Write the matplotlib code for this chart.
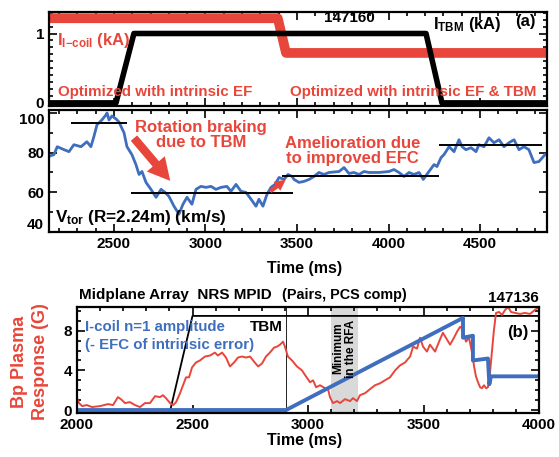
import matplotlib
matplotlib.use("Agg")
import matplotlib.pyplot as plt
from matplotlib.ticker import MultipleLocator

plt.rcParams['font.family'] = ['Liberation Sans', 'DejaVu Sans']
plt.rcParams['font.weight'] = 'bold'
plt.rcParams['mathtext.fontset'] = 'custom'
plt.rcParams['mathtext.bf'] = 'Liberation Sans:bold'
plt.rcParams['mathtext.rm'] = 'Liberation Sans:bold'
plt.rcParams['mathtext.it'] = 'Liberation Sans:bold'

RED = '#e8463a'
BLUE = '#3f6ebf'

# ---------------- panel (a) data ----------------
t_tbm = [2145, 2511, 2609, 4205, 4292, 4866]
i_tbm = [0.0, 0.0, 1.0, 1.0, 0.0, 0.0]
t_icoil = [2145, 3395, 3440, 4866]
i_icoil = [1.22, 1.22, 0.72, 0.72]

# ---------------- Vtor data ----------------
t_v = [2140, 2172, 2190, 2227, 2254, 2281, 2320, 2352, 2374, 2390, 2407, 2434, 2456,
       2462, 2473, 2489, 2511, 2527, 2555, 2571, 2598, 2620, 2637, 2653, 2675, 2702,
       2730, 2757, 2779, 2800, 2828, 2855, 2877, 2899, 2926, 2948, 2975, 3003, 3030,
       3057, 3085, 3117, 3139, 3167, 3194, 3221, 3249, 3276, 3292, 3314, 3336, 3358,
       3380, 3402, 3429, 3451, 3473, 3484, 3511, 3538, 3566, 3593, 3620, 3647, 3675,
       3730, 3757, 3784, 3811, 3839, 3866, 3893, 3948, 4003, 4030, 4057, 4085, 4112,
       4139, 4167, 4190, 4221, 4249, 4265, 4287, 4303, 4331, 4358, 4385, 4402, 4423,
       4451, 4478, 4494, 4522, 4549, 4576, 4604, 4631, 4658, 4686, 4713, 4740, 4767,
       4795, 4822, 4855]
v_tor = [78, 79, 83, 81.5, 80.5, 84, 83, 85.5, 83, 88, 94, 96.5, 99,
         100, 96.5, 98.5, 97, 95.5, 90, 83, 79, 74, 69, 70.5, 65, 61.5,
         57.5, 61.5, 60, 58, 53, 49, 54, 57.5, 54, 61.5, 63, 62.5, 63,
         61.5, 62.5, 63, 60.5, 64, 60.5, 60, 56.5, 53, 56.5, 53, 59, 62.5,
         64, 67.5, 66.5, 69, 68, 66.5, 65, 65.5, 66.5, 68, 70, 69, 70,
         70.5, 72.5, 69.5, 70, 69, 70.5, 70, 70, 70.5, 71.5, 70, 68, 70,
         69, 70, 66.5, 70.5, 74, 73, 77.5, 79, 83, 80.5, 86.5, 83, 81.5,
         82.5, 80.5, 84, 83, 87.5, 85, 86.5, 83, 85, 86.5, 81.5, 83, 81.5,
         75, 75.5, 79]
lvl_t0 = [2265, 2595, 3420, 4275]
lvl_t1 = [2570, 3480, 4275, 4840]
lvl_v = [95, 59.5, 68, 84]

# ---------------- panel (b) data ----------------
t_tbm_b = [2000, 2404, 2500, 4000]
tbm_b = [0.0, 0.0, 9.5, 9.5]
t_blue = [2000, 2905, 3671, 3671, 3714, 3714, 3779, 3785, 3792, 4000]
blue = [0.0, 0.0, 9.3, 7.3, 7.5, 5.0, 5.2, 2.6, 3.4, 3.4]
t_red = [2000, 2009, 2022, 2043, 2065, 2100, 2134, 2156, 2177, 2190, 2208, 2229, 2251,
         2273, 2294, 2316, 2338, 2359, 2372, 2385, 2403, 2416, 2429, 2446, 2459, 2472,
         2485, 2498, 2515, 2532, 2554, 2576, 2597, 2610, 2628, 2645, 2662, 2680, 2697,
         2714, 2732, 2749, 2766, 2784, 2801, 2818, 2835, 2853, 2866, 2879, 2892, 2900,
         2913, 2931, 2952, 2974, 2991, 3009, 3022, 3035, 3052, 3074, 3087, 3095, 3108,
         3126, 3139, 3160, 3182, 3195, 3212, 3225, 3247, 3268, 3290, 3312, 3333, 3355,
         3377, 3398, 3420, 3442, 3455, 3472, 3485, 3498, 3515, 3528, 3550, 3571, 3584,
         3602, 3615, 3632, 3645, 3658, 3668, 3684, 3697, 3710, 3719, 3727, 3736, 3745,
         3753, 3762, 3771, 3779, 3788, 3797, 3805, 3814, 3827, 3840, 3853, 3866, 3879,
         3896, 3918, 3939, 3961, 3982, 4000]
red = [1.2, 0.7, 0.4, 0.5, 0.3, 0.4, 0.6, 0.5, 1.3, 1.1, 0.7, 0.8, 0.5,
       0.3, 0.7, 0.7, 1.4, 1.3, 1.5, 1.2, 0.7, 0.5, 0.8, 1.7, 2.5, 3.3,
       3.3, 4.3, 4.8, 5.0, 5.4, 5.5, 5.8, 5.5, 5.8, 5.3, 4.4, 4.8, 5.3,
       5.4, 5.3, 5.4, 4.9, 4.4, 4.7, 5.4, 5.8, 6.3, 6.4, 6.6, 6.9, 6.4,
       5.4, 5.0, 4.4, 4.0, 3.4, 2.8, 3.0, 2.3, 2.5, 2.2, 2.1, 1.3, 0.7,
       0.9, 0.7, 1.1, 0.9, 1.2, 0.9, 1.5, 1.7, 2.1, 2.5, 2.7, 3.0, 3.3,
       4.0, 4.5, 4.8, 5.4, 6.4, 6.2, 7.3, 6.4, 5.9, 6.6, 5.9, 7.1, 7.8,
       7.1, 6.6, 7.3, 7.9, 8.4, 8.2, 6.9, 7.3, 5.8, 4.4, 3.4, 2.8, 2.3,
       2.2, 2.5, 2.2, 2.3, 3.8, 6.1, 8.1, 9.8, 9.9, 9.6, 10.1, 10.4, 9.9,
       9.8, 9.7, 9.8, 9.7, 10.1, 10.4]
rfa_min = [3100, 3217]
t_vline = 2905

W, H = 559, 457
fig = plt.figure(figsize=(W / 100, H / 100), dpi=100)


def axes_px(x0, x1, ytop, ybot):
    return fig.add_axes([x0 / W, (H - ybot) / H, (x1 - x0) / W, (ybot - ytop) / H])


def style(ax):
    ax.tick_params(which='both', direction='in', top=True, right=True, labelsize=11,
                   width=1.2)
    ax.tick_params(which='major', length=6)
    ax.tick_params(which='minor', length=3)
    for s in ax.spines.values():
        s.set_linewidth(1.6)


# ---------- panel (a) ----------
axa = axes_px(49, 547, 12, 106)
axa.plot(t_icoil, i_icoil, color=RED, lw=7, solid_capstyle='butt')
axa.plot(t_tbm, i_tbm, color='black', lw=4, solid_capstyle='butt')
axa.set_xlim(2145, 4866)
axa.set_ylim(-0.045, 1.31)
axa.set_yticks([0, 1])
axa.yaxis.set_minor_locator(MultipleLocator(0.1))
axa.xaxis.set_major_locator(MultipleLocator(500))
axa.xaxis.set_minor_locator(MultipleLocator(100))
style(axa)
axa.tick_params(labelbottom=False)
axa.text(0.604, 0.936, '147160', transform=axa.transAxes, ha='center', va='center',
         fontsize=11)
axa.text(0.771, 0.862, r'I$_{\mathbf{TBM}}$ (kA)', transform=axa.transAxes, ha='left',
         va='center', fontsize=12)
axa.text(0.956, 0.894, '(a)', transform=axa.transAxes, ha='center', va='center',
         fontsize=12)
axa.text(0.016, 0.70, r'I$_{\mathbf{I\mathrm{-}coil}}$ (kA)', transform=axa.transAxes,
         ha='left', va='center', fontsize=12, color=RED)
axa.text(0.018, 0.149, 'Optimized with intrinsic EF', transform=axa.transAxes,
         ha='left', va='center', fontsize=10.9, color=RED)
axa.text(0.484, 0.149, 'Optimized with intrinsic EF & TBM', transform=axa.transAxes,
         ha='left', va='center', fontsize=10.9, color=RED)

# ---------- Vtor panel ----------
axv = axes_px(49, 547, 110, 232)
axv.plot(t_v, v_tor, color=BLUE, lw=2.0)
axv.hlines(lvl_v, lvl_t0, lvl_t1, color='black', lw=1.4)
axv.set_xlim(2145, 4866)
axv.set_ylim(40, 101.5)
axv.set_yticks([40, 60, 80, 100])
axv.yaxis.set_minor_locator(MultipleLocator(10))
axv.xaxis.set_major_locator(MultipleLocator(500))
axv.xaxis.set_minor_locator(MultipleLocator(100))
axv.set_xticks([2500, 3000, 3500, 4000, 4500])
style(axv)
fig.canvas.draw()
ylabs = axv.get_yticklabels()
ylabs[-1].set_va('top')
ylabs[0].set_va('bottom')
axv.text(0.305, 0.795, 'Rotation braking\ndue to TBM', transform=axv.transAxes,
         ha='center', va='center', fontsize=12, color=RED, linespacing=1.0)
axv.annotate('', xy=(0.247, 0.402), xytext=(0.167, 0.787), xycoords='axes fraction',
             textcoords='axes fraction',
             arrowprops=dict(arrowstyle='simple,head_width=1.7,head_length=1.6,tail_width=0.6',
                             color=RED, lw=0))
axv.text(0.610, 0.664, 'Amelioration due\nto improved EFC', transform=axv.transAxes,
         ha='center', va='center', fontsize=12, color=RED, linespacing=1.0)
axv.annotate('', xy=(0.48, 0.443), xytext=(0.44, 0.32), xycoords='axes fraction',
             textcoords='axes fraction',
             arrowprops=dict(arrowstyle='simple,head_width=0.8,head_length=0.8,tail_width=0.3',
                             color=RED, lw=0))
axv.text(0.012, 0.115, r'V$_{\mathbf{tor}}$ (R=2.24m) (km/s)', transform=axv.transAxes,
         ha='left', va='center', fontsize=12.3)
fig.text(305 / W, (H - 268) / H, 'Time (ms)', ha='center', va='center', fontsize=11.5)

# ---------- panel (b) ----------
axb = axes_px(77, 539, 307, 413)
axb.axvspan(rfa_min[0], rfa_min[1], color='#d9d9d9', lw=0)
axb.axvline(t_vline, color='black', lw=0.6)
axb.plot(t_tbm_b, tbm_b, color='black', lw=1.3)
axb.plot(t_red, red, color=RED, lw=1.4)
axb.plot(t_blue, blue, color=BLUE, lw=2.8)
axb.set_xlim(2000, 4000)
axb.set_ylim(-0.3, 10.4)
axb.set_yticks([0, 4, 8])
axb.yaxis.set_minor_locator(MultipleLocator(1))
axb.set_xticks([2000, 2500, 3000, 3500, 4000])
axb.xaxis.set_minor_locator(MultipleLocator(100))
style(axb)
axb.text(0.004, 1.11, 'Midplane Array  NRS MPID', transform=axb.transAxes, ha='left',
         va='center', fontsize=11)
axb.text(0.444, 1.11, '(Pairs, PCS comp)', transform=axb.transAxes, ha='left',
         va='center', fontsize=10.4)
axb.text(0.944, 1.085, '147136', transform=axb.transAxes, ha='center', va='center',
         fontsize=11)
axb.text(0.017, 0.811, 'I-coil n=1 amplitude', transform=axb.transAxes, ha='left',
         va='center', fontsize=10.8, color=BLUE)
axb.text(0.017, 0.642, '(- EFC of intrinsic error)', transform=axb.transAxes, ha='left',
         va='center', fontsize=10.8, color=BLUE)
axb.text(0.374, 0.811, 'TBM', transform=axb.transAxes, ha='left', va='center',
         fontsize=11)
axb.text(0.955, 0.755, '(b)', transform=axb.transAxes, ha='center', va='center',
         fontsize=12)
axb.text(sum(rfa_min) / 2, 6.2, 'Minimum\nin the RFA', rotation=90, ha='center',
         va='center', fontsize=8.5, linespacing=1.0)
fig.text(30 / W, (H - 362) / H, 'Bp Plasma\nResponse (G)', rotation=90, ha='center',
         va='center', fontsize=13, color=RED, linespacing=1.3)
fig.text(305 / W, (H - 441) / H, 'Time (ms)', ha='center', va='center', fontsize=11.5)

fig.savefig('out.png', dpi=100)
